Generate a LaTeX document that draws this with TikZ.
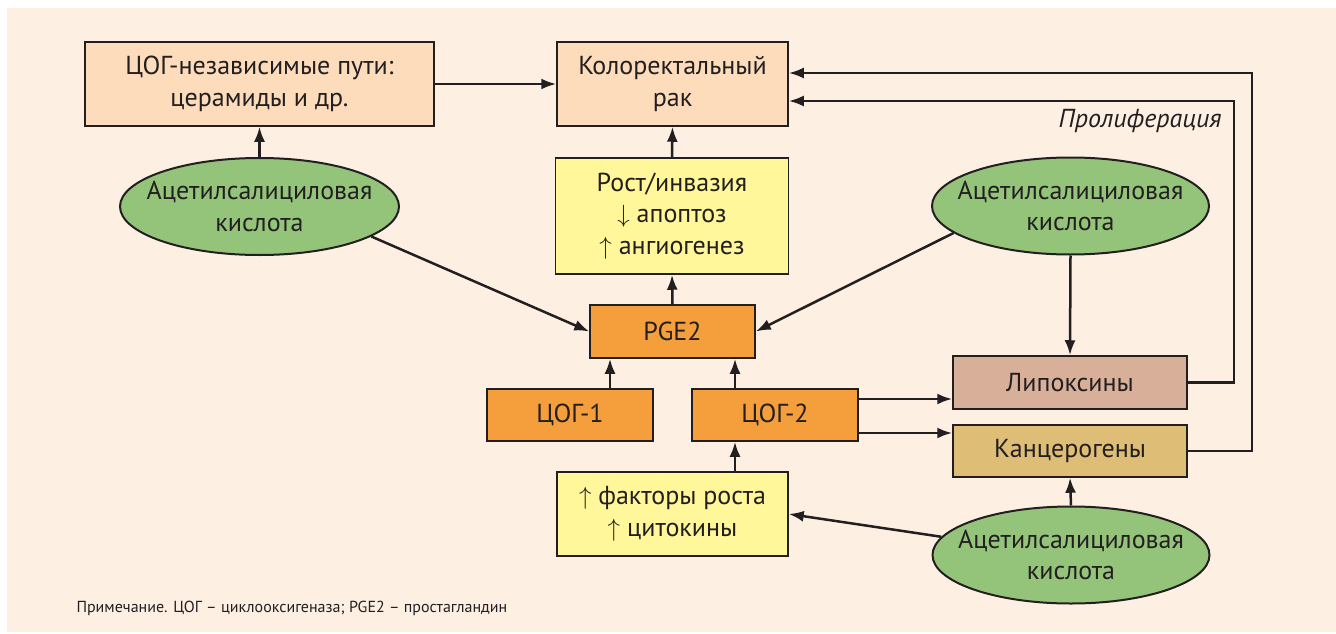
\documentclass[tikz,border=0pt]{standalone}
\usepackage{fontspec}
\setmainfont{PT Sans}
\usepackage{tikz}
\usepackage{xcolor}
\usetikzlibrary{arrows.meta,shapes.geometric}
\definecolor{bg-peach}{HTML}{FDF0E3}
\definecolor{box-peach}{HTML}{FDDCBC}
\definecolor{box-yellow}{HTML}{FFF799}
\definecolor{box-orange}{HTML}{F59E3C}
\definecolor{asa-green}{HTML}{93C47A}
\definecolor{lipo-brown}{HTML}{D8B09A}
\definecolor{carc-tan}{HTML}{DEBD77}
\definecolor{ink}{HTML}{231F20}
\tikzset{
    flow-box/.style = {draw=ink, line width=1.5pt, rectangle, align=center, text=ink, inner sep=0pt,
        font=\fontsize{26}{31.5}\selectfont},
    asa-ellipse/.style = {draw=ink, line width=2pt, ellipse, fill=asa-green, align=center, text=ink,
        inner xsep=-20pt, inner ysep=0pt,
        minimum width=279pt, minimum height=97pt, font=\fontsize{26}{31.5}\selectfont},
    flow-arrow/.style = {draw=ink, line width=2.5pt, -{Latex[length=15pt,width=11pt]}},
}

\begin{document}
\begin{tikzpicture}[x=1pt,y=-1pt]
\useasboundingbox (0,0) rectangle (1336,634);
\fill[bg-peach] (7,8) rectangle (1336,632);

% upper row
\node[flow-box, fill=box-peach, minimum width=349pt, minimum height=84pt] (cog-free) at (259.5,84) {ЦОГ-независимые пути:\\церамиды и др.};
\node[flow-box, fill=box-peach, minimum width=231pt, minimum height=84pt] (crc) at (672.5,84) {Колоректальный\\рак};
\node[flow-box, fill=box-yellow, minimum width=233pt, minimum height=116pt] (growth) at (672,216) {Рост/инвазия\\$\downarrow$ апоптоз\\$\uparrow$ ангиогенез};

% middle
\node[flow-box, fill=box-orange, minimum width=165pt, minimum height=53pt] (pge) at (672.5,331.5) {PGE2};
\node[flow-box, fill=box-orange, minimum width=166pt, minimum height=52pt] (cox-one) at (570,415) {ЦОГ-1};
\node[flow-box, fill=box-orange, minimum width=166pt, minimum height=52pt] (cox-two) at (775,415) {ЦОГ-2};
\node[flow-box, fill=box-yellow, minimum width=231pt, minimum height=84pt] (factors) at (672.5,514) {$\uparrow$ факторы роста\\$\uparrow$ цитокины};
\node[flow-box, fill=lipo-brown, minimum width=234pt, minimum height=53pt] (lipox) at (1070,382.5) {Липоксины};
\node[flow-box, fill=carc-tan, minimum width=234pt, minimum height=52pt] (carcin) at (1070,451) {Канцерогены};

% aspirin
\node[asa-ellipse] (asa-left) at (259.5,206.5) {Ацетилсалициловая\\кислота};
\node[asa-ellipse, minimum width=277pt] (asa-right) at (1070.5,206) {Ацетилсалициловая\\кислота};
\node[asa-ellipse, minimum width=277pt] (asa-bottom) at (1071,555) {Ацетилсалициловая\\кислота};

\node[anchor=east, text=ink, font=\fontsize{26}{30}\selectfont\itshape] (prolif) at (1225,121) {Пролиферация};

% arrows
\draw[flow-arrow] (asa-left.north) -- (cog-free.south);
\draw[flow-arrow] (cog-free.east) -- (crc.west);
\draw[flow-arrow] (growth.north) -- (crc.south);
\draw[flow-arrow] (pge.north) -- (growth.south);
\draw[flow-arrow] ([xshift=40pt]cox-one.north) -- ([xshift=40pt]cox-one.north |- pge.south);
\draw[flow-arrow] ([xshift=-40pt]cox-two.north) -- ([xshift=-40pt]cox-two.north |- pge.south);
\draw[flow-arrow] ([xshift=-40pt]cox-two.south |- factors.north) -- ([xshift=-40pt]cox-two.south);
\draw[flow-arrow] (asa-left.-15) -- (pge.west);
\draw[flow-arrow] (asa-right.193) -- (pge.east);
\draw[flow-arrow] (asa-right.south) -- (lipox.north);
\draw[flow-arrow] ([yshift=16pt]cox-two.east) -- ([yshift=16pt]cox-two.east -| lipox.west);
\draw[flow-arrow] ([yshift=-18pt]cox-two.east) -- ([yshift=-18pt]cox-two.east -| carcin.west);
\draw[flow-arrow] (lipox.east) -- ++(46,0) |- ([yshift=-17pt]crc.east);
\draw[flow-arrow] (carcin.east) -- ++(64,0) |- ([yshift=11pt]crc.east);
\draw[flow-arrow] (asa-bottom.north) -- (carcin.south);
\draw[flow-arrow] (asa-bottom.172) -- (factors.east);

\node[anchor=west, text=ink, font=\fontsize{16}{18}\selectfont] (note) at (73,608) {Примечание. ЦОГ – циклооксигеназа; PGE2 – простагландин};
\end{tikzpicture}
\end{document}
